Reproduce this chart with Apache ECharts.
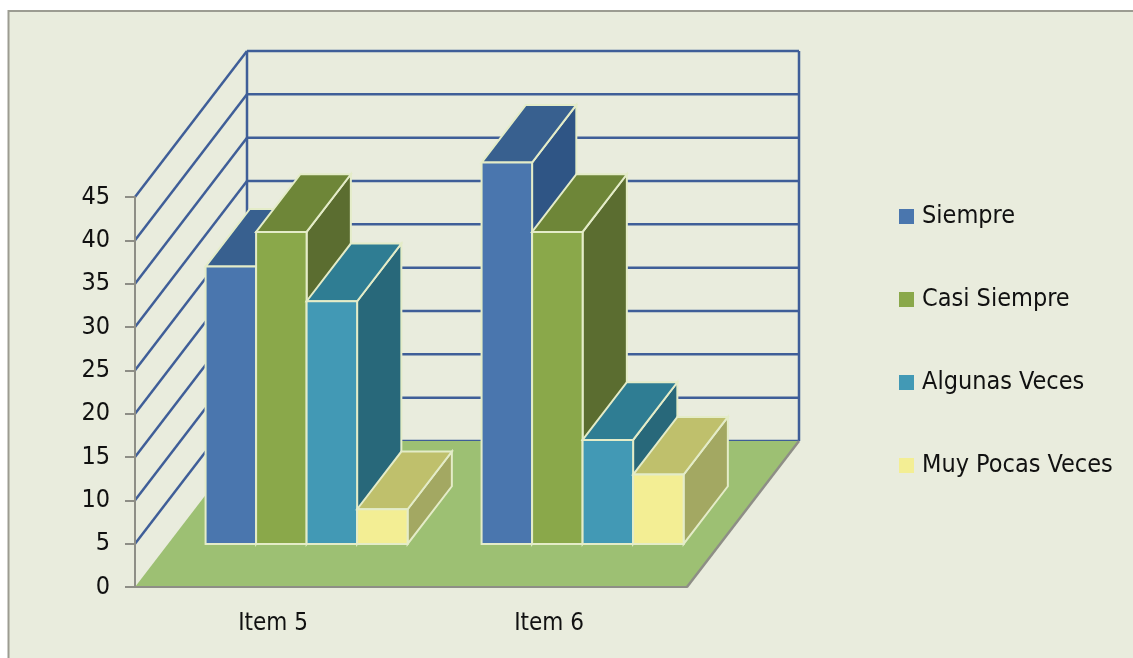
<!DOCTYPE html>
<html>
<head>
<meta charset="utf-8">
<script src="https://cdn.jsdelivr.net/npm/echarts@6/dist/echarts.min.js"></script>
<style>html,body{margin:0;padding:0;background:#fff}#c{width:1133px;height:658px}</style>
</head>
<body>
<div id="c"></div>
<script>
const categories = ['Item 5', 'Item 6'];
const siempre = [32, 44];
const casiSiempre = [36, 36];
const algunasVeces = [28, 12];
const muyPocasVeces = [4, 8];
const wallTicks = [0, 5, 10, 15, 20, 25, 30, 35, 40, 45];

const seriesNames = ['Siempre', 'Casi Siempre', 'Algunas Veces', 'Muy Pocas Veces'];
const seriesValues = [siempre, casiSiempre, algunasVeces, muyPocasVeces];
const frontColors = ['#4A76AE', '#8AA84A', '#4299B5', '#F3EE94'];
const topColors = ['#38608F', '#6E8638', '#2F7D93', '#BFC06C'];
const sideColors = ['#2F5585', '#5B6D30', '#28687A', '#A3A862'];

const FONT = '"DejaVu Sans Condensed", "DejaVu Sans", sans-serif';
const DEPTH_X = 112, DEPTH_Y = -146;
const BAR_FRONT_X = 0.3, BAR_FRONT_Y = 0.295, BAR_DEPTH = 0.395, BAR_WIDTH = 0.183;
const WALL = '#3F5E98', AXIS = '#8E8E86', EDGE = '#E4ECC8';

function barRender(k) {
  return function (params, api) {
    const top = api.coord([api.value(0), api.value(1)]);
    const base = api.coord([api.value(0), 0]);
    const w = api.size([1, 0])[0] * BAR_WIDTH;
    const dx = DEPTH_X * BAR_FRONT_X, dy = DEPTH_Y * BAR_FRONT_Y;
    const bx = DEPTH_X * BAR_DEPTH, by = DEPTH_Y * BAR_DEPTH;
    const x0 = top[0] + dx + (k - 2) * w, x1 = x0 + w;
    const yT = top[1] + dy, yB = base[1] + dy;
    const edge = { stroke: EDGE, lineWidth: 2 };
    const poly = (points, fill) => ({
      type: 'polygon', shape: { points },
      style: Object.assign({ fill }, edge)
    });
    return {
      type: 'group',
      children: [
        poly([[x1, yT], [x1 + bx, yT + by], [x1 + bx, yB + by], [x1, yB]], sideColors[k]),
        poly([[x0, yT], [x0 + bx, yT + by], [x1 + bx, yT + by], [x1, yT]], topColors[k]),
        poly([[x0, yT], [x1, yT], [x1, yB], [x0, yB]], frontColors[k])
      ]
    };
  };
}

const option = {
  animation: false,
  backgroundColor: '#ffffff',
  graphic: [{
    type: 'rect', z: -10, silent: true,
    shape: { x: 8.5, y: 11, width: 1140, height: 660 },
    style: { fill: '#E9ECDD', stroke: '#9C9C92', lineWidth: 2 }
  }],
  grid: { left: 135, right: 446, top: 197, bottom: 71 },
  legend: {
    orient: 'vertical', left: 894, top: 199, itemGap: 58,
    itemWidth: 15, itemHeight: 15, icon: 'rect',
    data: seriesNames,
    textStyle: { fontFamily: FONT, fontSize: 25, color: '#111', padding: [0, 0, 0, 3] }
  },
  xAxis: {
    type: 'category', data: categories, z: 5,
    axisLine: { lineStyle: { color: AXIS, width: 2 } },
    axisTick: { length: 6, lineStyle: { color: AXIS, width: 2 } },
    axisLabel: { fontFamily: FONT, fontSize: 24, color: '#111', margin: 25 }
  },
  yAxis: {
    type: 'value', min: 0, max: 45, interval: 5, z: 5,
    splitLine: { show: false },
    axisLine: { show: true, lineStyle: { color: AXIS, width: 2 } },
    axisTick: { show: true, length: 10, lineStyle: { color: AXIS, width: 2 } },
    axisLabel: { fontFamily: FONT, fontSize: 25, color: '#111', margin: 25 }
  },
  series: [
    {
      type: 'custom', name: 'walls', silent: true, z: 1, clip: false,
      data: wallTicks.map(v => [0, v]),
      renderItem(params, api) {
        const cs = params.coordSys;
        const v = api.value(1);
        const y = api.coord([0, v])[1];
        const xL = cs.x, xR = cs.x + cs.width;
        const line = (x1, y1, x2, y2, color) => ({
          type: 'line', shape: { x1, y1, x2, y2 },
          style: { stroke: color, lineWidth: 2.5 }
        });
        const children = [
          line(xL + DEPTH_X, y + DEPTH_Y, xR + DEPTH_X, y + DEPTH_Y, WALL)
        ];
        if (v > 0) children.push(line(xL, y, xL + DEPTH_X, y + DEPTH_Y, WALL));
        if (v === 0) {
          const yTop = api.coord([0, wallTicks[wallTicks.length - 1]])[1];
          children.push(line(xL + DEPTH_X, y + DEPTH_Y, xL + DEPTH_X, yTop + DEPTH_Y, WALL));
          children.push(line(xR + DEPTH_X, y + DEPTH_Y, xR + DEPTH_X, yTop + DEPTH_Y, WALL));
          children.push({
            type: 'polygon',
            shape: { points: [[xL, y], [xL + DEPTH_X, y + DEPTH_Y], [xR + DEPTH_X, y + DEPTH_Y], [xR, y]] },
            style: { fill: '#9DC073' }
          });
          children.push(line(xR, y, xR + DEPTH_X, y + DEPTH_Y, AXIS));
        }
        return { type: 'group', children };
      }
    }
  ].concat(seriesNames.map((name, k) => ({
    type: 'custom', name, z: 2 + k, clip: false,
    itemStyle: { color: frontColors[k] },
    data: seriesValues[k].map((v, i) => [i, v]),
    renderItem: barRender(k)
  })))
};
echarts.init(document.getElementById('c'), null, { renderer: 'canvas' }).setOption(option);
</script>
</body>
</html>
